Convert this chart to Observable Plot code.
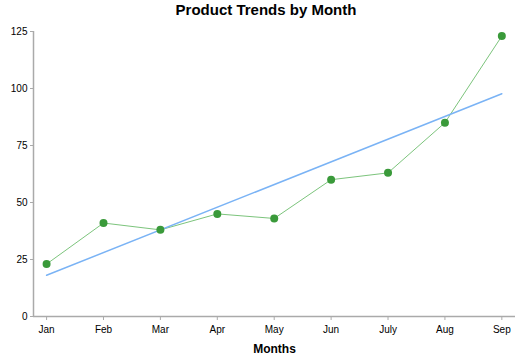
<!DOCTYPE html>
<html><head><meta charset="utf-8">
<script src="https://cdn.jsdelivr.net/npm/d3@7"></script>
<script src="https://cdn.jsdelivr.net/npm/@observablehq/plot@0.6"></script>
<style>
body{margin:0;background:#fff;font-family:"Liberation Sans",Arial,sans-serif;}
#title{height:22px;line-height:20px;text-align:center;font-weight:bold;font-size:15px;color:#000;width:532px;}
</style></head><body>
<div id="title">Product Trends by Month</div>
<div id="chart"></div>
<script>
const months = ["Jan","Feb","Mar","Apr","May","Jun","July","Aug","Sep"];
const sales = [23, 41, 38, 45, 43, 60, 63, 85, 123];
const yTicks = [0, 25, 50, 75, 100, 125];

const data = months.map((m, i) => ({i, month: m, value: sales[i]}));
const xMin = -0.23, xMax = 8.24;

const chart = Plot.plot({
  width: 532, height: 333,
  marginLeft: 33, marginRight: 17, marginTop: 9, marginBottom: 39,
  style: {fontFamily: "Liberation Sans, Arial, sans-serif", fontSize: "10px", color: "#000", background: "#fff"},
  x: {domain: [xMin, xMax], ticks: d3.range(months.length), tickFormat: i => months[i], tickSize: 4, label: null},
  y: {domain: [0, 125], ticks: yTicks, tickSize: 3, label: null},
  marks: [
    Plot.ruleY([0], {stroke: "#aaa", strokeWidth: 1.5}),
    Plot.ruleX([xMin], {y1: 0, y2: 125, stroke: "#aaa", strokeWidth: 1.5}),
    Plot.axisX({ticks: d3.range(months.length), tickFormat: i => months[i], tickSize: 4, stroke: "#aaa", tickPadding: 5, label: null}),
    Plot.axisY({ticks: yTicks, tickSize: 3, stroke: "#aaa", tickPadding: 3, label: null}),
    Plot.text(["Months"], {frameAnchor: "bottom", dy: 36, fontWeight: "bold", fontSize: 12}),
    Plot.line(data, {x: "i", y: "value", stroke: "#7cc47c", strokeWidth: 1}),
    Plot.linearRegressionY(data, {x: "i", y: "value", stroke: "#7ab3f5", strokeWidth: 1.5, ci: 0}),
    Plot.dot(data, {x: "i", y: "value", fill: "#3a9a3a", r: 4})
  ]
});
document.getElementById("chart").appendChild(chart);
</script></body></html>
